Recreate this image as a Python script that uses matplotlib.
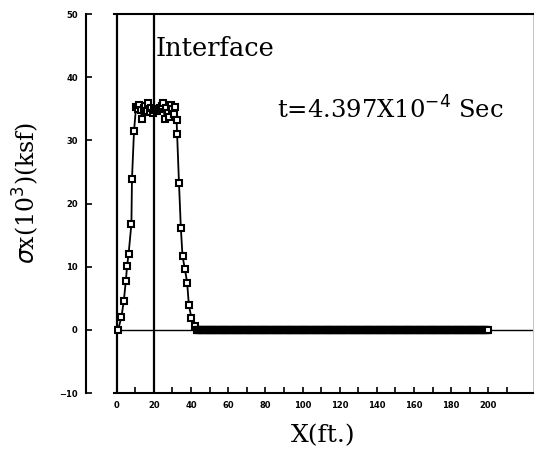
import numpy as np
import matplotlib.pyplot as plt

# stress profile sigma_x (10^3 ksf) along X (ft)
x_front = [0.7, 2.5, 3.8, 4.9, 5.6, 6.4, 7.9, 8.2, 9.3, 10.4, 11.2, 12.0, 12.8, 13.8,
           14.6, 15.4, 16.2, 17.0, 17.8, 18.6, 19.4, 20.2, 21.0, 21.8, 22.6, 23.4,
           24.2, 25.0, 25.8, 26.6, 27.4, 28.2, 29.0, 29.8, 30.6, 31.4, 32.2]
y_front = [0.0, 2.0, 4.6, 7.8, 10.2, 12.1, 16.8, 23.9, 31.5, 35.3, 35.0, 35.6, 34.8, 33.4,
           35.1, 35.5, 34.6, 35.9, 34.5, 35.2, 34.4, 34.8, 35.0, 34.7, 34.9, 35.1,
           35.4, 36.0, 33.4, 35.2, 34.3, 33.7, 35.6, 35.0, 34.2, 35.3, 33.3]
x_back = [32.5, 33.5, 34.5, 35.4, 36.7, 37.9, 38.8, 40.2, 42.0]
y_back = [31.0, 23.3, 16.2, 11.7, 9.6, 7.5, 4.0, 1.9, 0.6]
# undisturbed region: all grid nodes sit at zero
x_rest = np.arange(43.0, 200.5, 0.5)
y_rest = np.zeros(len(x_rest))

x_all = np.concatenate([x_front, x_back, x_rest])
y_all = np.concatenate([y_front, y_back, y_rest])

x_interface = 20
x_ticks = [0, 20, 40, 60, 80, 100, 120, 140, 160, 180, 200]
y_ticks = [-10, 0, 10, 20, 30, 40, 50]

fig = plt.figure(figsize=(5.35, 4.55), dpi=100)
ax = fig.add_axes([0.213, 0.136, 0.783, 0.833])

ax.axhline(0, color='black', lw=1.0, zorder=1)
ax.axvline(0, color='black', lw=1.6, zorder=1)
ax.axvline(x_interface, color='black', lw=1.6, zorder=1)
ax.plot(x_all, y_all, color='black', lw=1.3, marker='s', ms=5,
        mfc='white', mec='black', mew=1.5, zorder=3)

ax.set_xlim(-1.5, 224)
ax.set_ylim(-10, 50)

ax.spines['left'].set_position(('outward', 20))
ax.spines['left'].set_linewidth(1.5)
ax.spines['bottom'].set_linewidth(1.5)
ax.spines['top'].set_linewidth(1.5)
ax.spines['right'].set_linewidth(0.6)
ax.spines['right'].set_color('#bbbbbb')

ax.set_xticks(x_ticks)
ax.set_xticks(np.arange(10, 220, 20), minor=True)
ax.set_yticks(y_ticks)
ax.tick_params(axis='both', which='both', direction='in', length=4, width=1.2,
               top=False, right=False)
ax.tick_params(axis='x', labelsize=6, pad=6)
ax.tick_params(axis='y', labelsize=6, pad=6)
for lab in ax.get_xticklabels() + ax.get_yticklabels():
    lab.set_fontweight('bold')

ax.text(0.1, 0.89, 'Interface', transform=ax.transAxes,
        family='DejaVu Serif', fontsize=18.5)
ax.text(0.39, 0.725, 't=4.397X10$^{-4}$ Sec', transform=ax.transAxes,
        family='DejaVu Serif', fontsize=17.5)

ax.set_xlabel('X(ft.)', family='DejaVu Serif', fontsize=18, labelpad=10)
fig.text(0.048, 0.575, r'$\sigma$x(10$^3$)(ksf)', rotation=90, ha='center', va='center',
         family='DejaVu Serif', fontsize=17)

fig.savefig('out.png', dpi=100)
